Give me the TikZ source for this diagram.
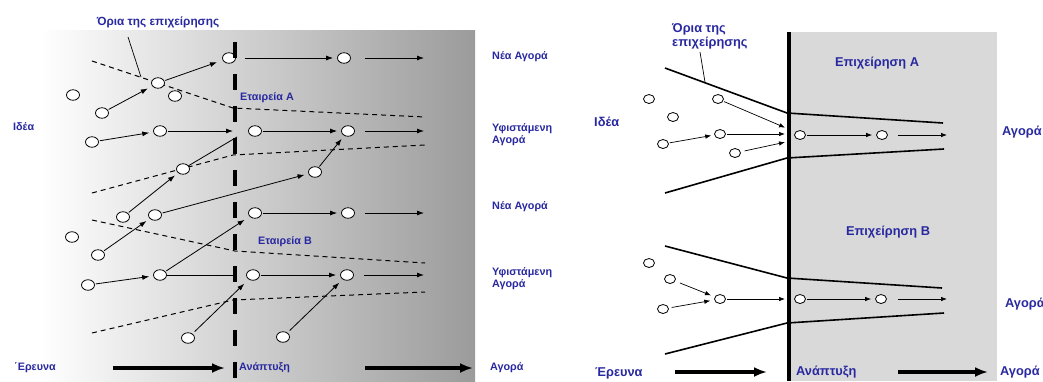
\documentclass[tikz,border=0pt]{standalone}
\usepackage{fontspec}
\setmainfont{Liberation Sans}
\usetikzlibrary{shapes.geometric,arrows.meta}
\definecolor{lblue}{RGB}{40,40,160}
\definecolor{panelgray}{RGB}{217,217,217}
\definecolor{gradend}{RGB}{155,155,155}
\tikzset{
  labL/.style={text=lblue,font=\fontsize{10.8}{12}\selectfont\bfseries,inner sep=0pt,align=left},
  labR/.style={text=lblue,font=\fontsize{12.8}{14}\selectfont\bfseries,inner sep=0pt,align=left},
  dotL/.style={ellipse,draw,fill=white,minimum width=13pt,minimum height=10.5pt,inner sep=0pt,line width=0.8pt},
  dotR/.style={ellipse,draw,fill=white,minimum width=11pt,minimum height=9pt,inner sep=0pt,line width=0.8pt},
  arrL/.style={-{Latex[length=7pt,width=5pt]},line width=0.8pt,shorten >=1pt,shorten <=1pt},
  arrR/.style={-{Latex[length=6pt,width=4.5pt]},line width=0.7pt,shorten >=1pt,shorten <=1pt},
  lineL/.style={line width=0.8pt},
  bigarrow/.style={-{Latex[length=13pt,width=10pt]},line width=3.2pt},
  bndL/.style={line width=1pt,dash pattern=on 5pt off 4pt},
  bndR/.style={line width=1.6pt},
}
\begin{document}
\begin{tikzpicture}[x=1pt,y=-1pt]
\useasboundingbox (0,0) rectangle (1043,381);
% backgrounds
\shade[left color=white,right color=gradend] (40,30) rectangle (475,381);
\fill[panelgray] (790,32) rectangle (997,381);

% ================= LEFT PANEL =================
\draw[bndL] (92,61) -- (233,108) -- (425,117);
\draw[bndL] (92,193) -- (233,155) -- (425,145);
\draw[bndL] (92,220) -- (235,251) -- (425,263);
\draw[bndL] (92,333) -- (233,300) -- (425,292);

\node[dotL] (L1) at (158,83) {};
\node[dotL] (L2) at (175,96) {};
\node[dotL] (L3) at (73,95) {};
\node[dotL] (L4) at (102,113) {};
\node[dotL] (L5) at (229,58) {};
\node[dotL] (L6) at (344,58) {};
\node[dotL] (L7) at (92,142) {};
\node[dotL] (L8) at (160,131) {};
\node[dotL] (L9) at (255,131) {};
\node[dotL] (L10) at (348,131) {};
\node[dotL] (L11) at (183,169) {};
\node[dotL] (L12) at (315,172) {};
\node[dotL] (L13) at (123,217) {};
\node[dotL] (L14) at (155,215) {};
\node[dotL] (L15) at (255,213) {};
\node[dotL] (L16) at (348,213) {};
\node[dotL] (L17) at (72,237) {};
\node[dotL] (L18) at (98,255) {};
\node[dotL] (L19) at (88,285) {};
\node[dotL] (L20) at (160,275) {};
\node[dotL] (L21) at (253,275) {};
\node[dotL] (L22) at (347,275) {};
\node[dotL] (L23) at (188,338) {};
\node[dotL] (L24) at (283,337) {};

\coordinate (e1) at (425,58);
\coordinate (e2) at (234,131);
\coordinate (e3) at (425,131);
\coordinate (e4) at (237,137);
\coordinate (e5) at (425,213);
\coordinate (e6) at (236,275);
\coordinate (e7) at (425,275);
\coordinate (e8) at (245,283);
\coordinate (e9) at (340,282);

\draw[arrL,shorten >=5pt] (L4) -- (L1);
\draw[arrL,shorten >=6pt] (L1) -- (L5);
\draw[arrL,shorten <=9pt,shorten >=4pt] (L5) -- (L6);
\draw[arrL,shorten <=14pt] (L6) -- (e1);
\draw[arrL,shorten >=4pt] (L7) -- (L8);
\draw[arrL] (L8) -- (e2);
\draw[arrL,shorten >=4pt] (L9) -- (L10);
\draw[arrL,shorten <=10pt] (L10) -- (e3);
\draw[lineL] (L11) -- (e4);
\draw[arrL,shorten >=4pt] (L13) -- (L11);
\draw[arrL,shorten >=4pt] (L14) -- (L12);
\draw[arrL,shorten >=4pt] (L12) -- (L10);
\draw[arrL,shorten >=4pt] (L15) -- (L16);
\draw[arrL,shorten <=10pt] (L16) -- (e5);
\draw[arrL,shorten >=4pt] (L18) -- (L14);
\draw[arrL,shorten >=6pt] (L20) -- (L15);
\draw[arrL,shorten >=4pt] (L19) -- (L20);
\draw[lineL] (L20) -- (e6);
\draw[arrL,shorten >=4pt] (L21) -- (L22);
\draw[arrL,shorten <=10pt] (L22) -- (e7);
\draw[arrL,shorten <=3pt] (L23) -- (e8);
\draw[arrL,shorten <=3pt] (L24) -- (e9);

\coordinate (vt) at (235,42);
\coordinate (vb) at (235,381);
\draw[line width=4pt,dash pattern=on 16pt off 16pt] (vt) -- (vb);

\node[labL,font=\fontsize{11.8}{13}\selectfont\bfseries] (oriaL) at (158,22) {Όρια της επιχείρησης};
\coordinate (oriaLp) at (141,77);
\coordinate (oriaLs) at (128,37);
\draw[lineL,line width=0.7pt] (oriaLs) -- (oriaLp);
\node[labL,anchor=west] (ideaL) at (13,127) {Ιδέα};
\node[labL,anchor=west] (etA) at (240,98) {Εταιρεία Α};
\node[labL,anchor=west] (etB) at (258,242) {Εταιρεία Β};
\node[labL,anchor=west] (nea1) at (492,57) {Νέα Αγορά};
\node[labL,anchor=west] (yf1) at (492,135) {Υφιστάμενη\\Αγορά};
\node[labL,anchor=west] (nea2) at (492,207) {Νέα Αγορά};
\node[labL,anchor=west] (yf2) at (492,279) {Υφιστάμενη\\Αγορά};
\node[labL,anchor=west] (erL) at (14,368) {΄Ερευνα};
\node[labL,anchor=west] (anL) at (239,368) {Ανάπτυξη};
\node[labL,anchor=west] (agL) at (490,368) {Αγορά};
\draw[bigarrow] (113,368) -- (erL.east -| 225,368);
\draw[bigarrow] (anL.east -| 365,368) -- (473,368);

% ================= RIGHT PANEL =================
\draw[bndR] (665,68) -- (787,113) -- (943,123);
\draw[bndR] (665,193) -- (787,158) -- (944,149);
\draw[bndR] (665,246) -- (787,278) -- (942,288);
\draw[bndR] (665,354) -- (787,323) -- (944,313);

\node[dotR] (R1) at (649,99) {};
\node[dotR] (R2) at (718,99) {};
\node[dotR] (R3) at (673,117) {};
\node[dotR] (R4) at (720,134) {};
\node[dotR] (R5) at (663,144) {};
\node[dotR] (R6) at (735,153) {};
\node[dotR] (R7) at (800,135) {};
\node[dotR] (R8) at (882,135) {};
\node[dotR] (R9) at (649,263) {};
\node[dotR] (R10) at (670,279) {};
\node[dotR] (R11) at (720,299) {};
\node[dotR] (R12) at (663,309) {};
\node[dotR] (R13) at (800,299) {};
\node[dotR] (R14) at (881,299) {};

\coordinate (f1) at (786,128);
\coordinate (f2) at (786,134);
\coordinate (f3) at (786,142);
\coordinate (f4) at (948,135);
\coordinate (f5) at (786,299);
\coordinate (f6) at (948,299);

\draw[arrR] (R2) -- (f1);
\draw[arrR,shorten >=3pt] (R5) -- (R4);
\draw[arrR] (R4) -- (f2);
\draw[arrR,shorten <=4pt] (R6) -- (f3);
\draw[arrR,shorten >=4pt] (R7) -- (R8);
\draw[arrR,shorten <=10pt] (R8) -- (f4);
\draw[arrR,shorten <=5pt,shorten >=4pt] (R10) -- (R11);
\draw[arrR,shorten <=3pt,shorten >=4pt] (R12) -- (R11);
\draw[arrR] (R11) -- (f5);
\draw[arrR,shorten >=4pt] (R13) -- (R14);
\draw[arrR,shorten <=11pt] (R14) -- (f6);

\coordinate (vrt) at (789,32);
\coordinate (vrb) at (789,381);
\draw[line width=3.5pt] (vrt) -- (vrb);

\node[labR,anchor=north west,align=left] (oriaR) at (672,23) {Όρια της\\επιχείρησης};
\coordinate (oriaRp) at (705,82);
\coordinate (oriaRs) at (700,52);
\draw[line width=0.7pt] (oriaRs) -- (oriaRp);
\node[labR,anchor=west] (ideaR) at (594,122) {Ιδέα};
\node[labR] (epA) at (877,63) {Επιχείρηση Α};
\node[labR] (epB) at (888,232) {Επιχείρηση Β};
\node[labR,anchor=west] (ag1) at (1002,132) {Αγορά};
\node[labR,anchor=west] (ag2) at (1005,304) {Αγορά};
\node[labR,anchor=west] (erR) at (595,373) {Έρευνα};
\node[labR,anchor=west] (anR) at (796,372) {Ανάπτυξη};
\node[labR,anchor=west] (agR) at (1000,372) {Αγορά};
\draw[bigarrow] (675,372) -- (767,372);
\draw[bigarrow] (898,372) -- (988,372);
\end{tikzpicture}
\end{document}
